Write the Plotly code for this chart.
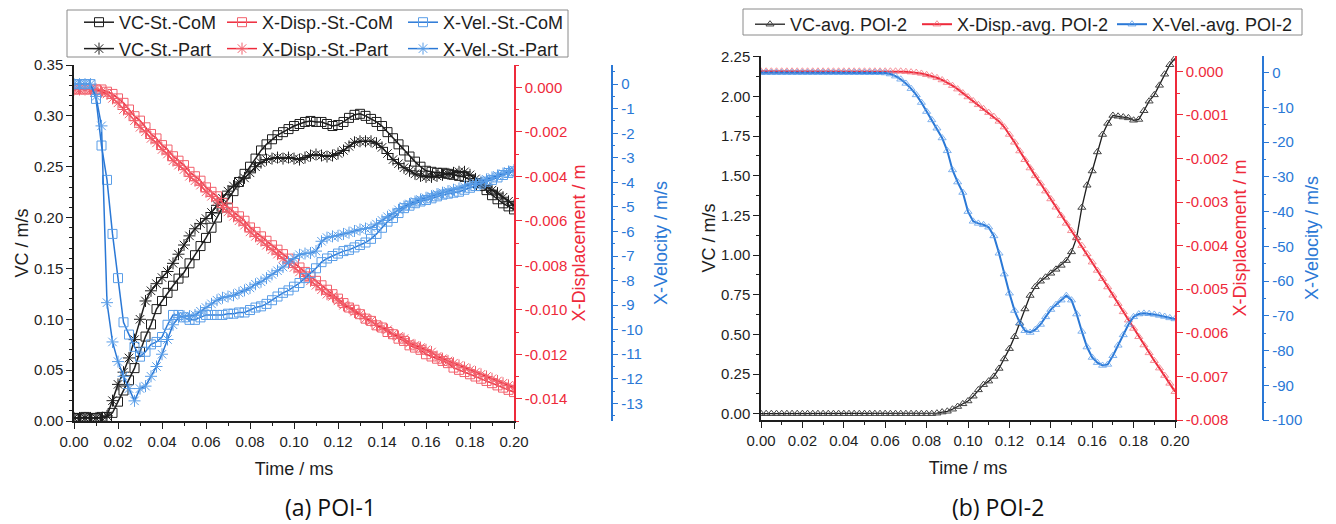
import plotly.graph_objects as go

# ---------------- data ----------------
# time grid (ms), 0.0025 ms sampling
t = [round(i * 0.0025, 4) for i in range(81)]

# (a) POI-1
vc_com = [0.003, 0.003, 0.004, 0.003, 0.003, 0.004, 0.004, 0.008, 0.019, 0.030,
          0.040, 0.052, 0.068, 0.083, 0.095, 0.110, 0.118, 0.126, 0.133, 0.140,
          0.146, 0.155, 0.163, 0.172, 0.180, 0.190, 0.200, 0.210, 0.218, 0.226,
          0.235, 0.243, 0.250, 0.258, 0.266, 0.272, 0.277, 0.281, 0.284, 0.287,
          0.290, 0.292, 0.294, 0.295, 0.294, 0.294, 0.292, 0.290, 0.291, 0.294,
          0.298, 0.301, 0.302, 0.300, 0.297, 0.294, 0.290, 0.284, 0.278, 0.272,
          0.266, 0.260, 0.255, 0.250, 0.246, 0.245, 0.244, 0.244, 0.243, 0.242,
          0.241, 0.240, 0.237, 0.234, 0.231, 0.227, 0.222, 0.218, 0.214, 0.211,
          0.208]
vc_part = [0.003, 0.003, 0.003, 0.003, 0.003, 0.003, 0.005, 0.020, 0.036, 0.048,
           0.062, 0.080, 0.100, 0.118, 0.128, 0.135, 0.141, 0.147, 0.155, 0.164,
           0.173, 0.182, 0.189, 0.194, 0.199, 0.205, 0.212, 0.219, 0.226, 0.231,
           0.235, 0.239, 0.244, 0.250, 0.254, 0.257, 0.258, 0.259, 0.258, 0.259,
           0.258, 0.257, 0.259, 0.261, 0.262, 0.261, 0.260, 0.261, 0.263, 0.266,
           0.270, 0.274, 0.275, 0.275, 0.275, 0.273, 0.269, 0.263, 0.257, 0.253,
           0.249, 0.246, 0.243, 0.241, 0.240, 0.240, 0.241, 0.242, 0.243, 0.244,
           0.245, 0.245, 0.242, 0.238, 0.234, 0.230, 0.227, 0.224, 0.220, 0.216,
           0.212]
disp_com = [-0.0001, -0.0001, -0.0001, -0.0001, -0.0001, -0.0001, -0.0002, -0.0003, -0.0005, -0.0007,
            -0.0010, -0.0013, -0.0015, -0.0018, -0.0021, -0.0023, -0.0026, -0.0028, -0.0031, -0.0033,
            -0.0035, -0.0038, -0.0040, -0.0042, -0.0045, -0.0047, -0.0049, -0.0052, -0.0054, -0.0056,
            -0.0058, -0.0060, -0.0063, -0.0065, -0.0067, -0.0069, -0.0071, -0.0073, -0.0075, -0.0077,
            -0.0079, -0.0081, -0.0083, -0.0085, -0.0087, -0.0089, -0.0091, -0.0093, -0.0095, -0.0097,
            -0.0099, -0.0100, -0.0102, -0.0104, -0.0105, -0.0107, -0.0108, -0.0110, -0.0111, -0.0113,
            -0.0114, -0.0116, -0.0117, -0.0118, -0.0120, -0.0121, -0.0122, -0.0123, -0.0124, -0.0126,
            -0.0127, -0.0128, -0.0129, -0.0130, -0.0131, -0.0132, -0.0133, -0.0134, -0.0135, -0.0136,
            -0.0137]
disp_part = [-0.0001, -0.0001, -0.0001, -0.0001, -0.0001, -0.0002, -0.0003, -0.0005, -0.0007, -0.0010,
             -0.0012, -0.0015, -0.0018, -0.0020, -0.0023, -0.0025, -0.0028, -0.0030, -0.0033, -0.0035,
             -0.0037, -0.0040, -0.0042, -0.0044, -0.0047, -0.0049, -0.0051, -0.0054, -0.0056, -0.0058,
             -0.0060, -0.0062, -0.0065, -0.0067, -0.0069, -0.0071, -0.0073, -0.0075, -0.0077, -0.0079,
             -0.0081, -0.0083, -0.0085, -0.0087, -0.0089, -0.0091, -0.0093, -0.0094, -0.0096, -0.0098,
             -0.0099, -0.0101, -0.0102, -0.0104, -0.0105, -0.0107, -0.0108, -0.0109, -0.0111, -0.0112,
             -0.0113, -0.0115, -0.0116, -0.0117, -0.0118, -0.0119, -0.0121, -0.0122, -0.0123, -0.0124,
             -0.0125, -0.0126, -0.0127, -0.0128, -0.0129, -0.0130, -0.0131, -0.0132, -0.0133, -0.0134,
             -0.0135]
vel_com = [0.0, 0.0, 0.0, 0.0, -0.6, -2.5, -3.9, -6.1, -7.9, -9.7,
           -10.2, -10.7, -11.1, -10.9, -10.6, -10.5, -10.3, -9.8, -9.4, -9.4,
           -9.5, -9.6, -9.6, -9.5, -9.4, -9.4, -9.4, -9.4, -9.35, -9.35,
           -9.3, -9.3, -9.2, -9.1, -9.05, -8.95, -8.8, -8.65, -8.5, -8.4,
           -8.25, -8.1, -7.9, -7.7, -7.5, -7.25, -7.1, -7.0, -6.9, -6.8,
           -6.75, -6.65, -6.55, -6.45, -6.3, -6.1, -5.85, -5.6, -5.45, -5.25,
           -5.05, -4.95, -4.85, -4.78, -4.72, -4.65, -4.57, -4.5, -4.46, -4.42,
           -4.38, -4.3, -4.22, -4.15, -4.05, -3.97, -3.9, -3.8, -3.7, -3.62,
           -3.55]
vel_part = [0.0, 0.0, 0.0, 0.0, -0.5, -1.7, -8.9, -10.5, -11.3, -11.9,
            -12.4, -12.9, -12.4, -12.3, -11.9, -11.5, -11.0, -10.4, -9.8, -9.5,
            -9.45, -9.45, -9.4, -9.25, -9.1, -8.95, -8.8, -8.7, -8.65, -8.6,
            -8.5, -8.4, -8.3, -8.15, -8.05, -7.9, -7.75, -7.6, -7.45, -7.25,
            -7.1, -6.95, -6.9, -6.88, -6.8, -6.4, -6.25, -6.2, -6.18, -6.1,
            -6.05, -5.98, -5.92, -5.88, -5.84, -5.7, -5.55, -5.4, -5.28, -5.12,
            -4.98, -4.88, -4.78, -4.7, -4.63, -4.56, -4.48, -4.42, -4.36, -4.3,
            -4.25, -4.18, -4.1, -4.05, -3.97, -3.88, -3.8, -3.72, -3.64, -3.56,
            -3.5]

# (b) POI-2
vc_avg = [0, 0, 0, 0, 0, 0, 0, 0, 0, 0,
          0, 0, 0, 0, 0, 0, 0, 0, 0, 0,
          0, 0, 0, 0, 0, 0, 0, 0, 0, 0,
          0, 0, 0, 0, 0.003, 0.010, 0.015, 0.028, 0.045, 0.062,
          0.080, 0.110, 0.150, 0.183, 0.205, 0.235, 0.285, 0.345, 0.410, 0.485,
          0.570, 0.660, 0.745, 0.800, 0.835, 0.860, 0.885, 0.910, 0.935, 0.965,
          1.020, 1.110, 1.300, 1.440, 1.530, 1.650, 1.760, 1.830, 1.880, 1.875,
          1.870, 1.865, 1.850, 1.855, 1.910, 1.970, 2.010, 2.070, 2.140, 2.200,
          2.240]
disp_avg = [0, 0, 0, 0, 0, 0, 0, 0, 0, 0,
            0, 0, 0, 0, 0, 0, 0, 0, 0, 0,
            0, 0, 0, 0, 0, 0, 0, 0, -0.00001, -0.00002,
            -0.00003, -0.00005, -0.00008, -0.00011, -0.00015, -0.00020, -0.00026, -0.00033, -0.00041, -0.00050,
            -0.00059, -0.00068, -0.00077, -0.00086, -0.00095, -0.00104, -0.00115, -0.00128, -0.00145, -0.00163,
            -0.00183, -0.00203, -0.00222, -0.00240, -0.00257, -0.00275, -0.00293, -0.00312, -0.00331, -0.00349,
            -0.00366, -0.00383, -0.00400, -0.00419, -0.00438, -0.00457, -0.00476, -0.00495, -0.00514, -0.00533,
            -0.00552, -0.00571, -0.00590, -0.00609, -0.00628, -0.00646, -0.00664, -0.00681, -0.00698, -0.00716,
            -0.00735]
vel_avg = [0, 0, 0, 0, 0, 0, 0, 0, 0, 0,
           0, 0, 0, 0, 0, 0, 0, 0, 0, 0,
           0, 0, 0, 0, -0.1, -0.4, -1.0, -1.9, -3.1, -4.6,
           -6.4, -8.6, -11.2, -13.6, -16.0, -18.8, -22.5, -28.0, -31.5, -34.5,
           -40.0, -42.8, -43.4, -43.8, -44.5, -47.0, -52.0, -58.0, -63.5, -68.5,
           -72.0, -74.3, -74.8, -74.0, -72.5, -70.3, -68.2, -66.8, -65.5, -64.2,
           -65.5, -69.5, -74.5, -79.0, -82.0, -83.5, -84.3, -84.0, -81.5, -78.5,
           -75.5, -72.5, -70.3, -69.5, -69.3, -69.4, -69.6, -69.9, -70.2, -70.6,
           -70.9]

# tick labels
x_ticks = [0.00, 0.02, 0.04, 0.06, 0.08, 0.10, 0.12, 0.14, 0.16, 0.18, 0.20]
x_labels = ["0.00", "0.02", "0.04", "0.06", "0.08", "0.10", "0.12", "0.14", "0.16", "0.18", "0.20"]
vc1_ticks = [0.00, 0.05, 0.10, 0.15, 0.20, 0.25, 0.30, 0.35]
vc1_labels = ["0.00", "0.05", "0.10", "0.15", "0.20", "0.25", "0.30", "0.35"]
d1_ticks = [0.000, -0.002, -0.004, -0.006, -0.008, -0.010, -0.012, -0.014]
d1_labels = ["0.000", "-0.002", "-0.004", "-0.006", "-0.008", "-0.010", "-0.012", "-0.014"]
v1_ticks = [0, -1, -2, -3, -4, -5, -6, -7, -8, -9, -10, -11, -12, -13]
v1_labels = ["0", "-1", "-2", "-3", "-4", "-5", "-6", "-7", "-8", "-9", "-10", "-11", "-12", "-13"]
vc2_ticks = [0.00, 0.25, 0.50, 0.75, 1.00, 1.25, 1.50, 1.75, 2.00, 2.25]
vc2_labels = ["0.00", "0.25", "0.50", "0.75", "1.00", "1.25", "1.50", "1.75", "2.00", "2.25"]
d2_ticks = [0.000, -0.001, -0.002, -0.003, -0.004, -0.005, -0.006, -0.007, -0.008]
d2_labels = ["0.000", "-0.001", "-0.002", "-0.003", "-0.004", "-0.005", "-0.006", "-0.007", "-0.008"]
v2_ticks = [0, -10, -20, -30, -40, -50, -60, -70, -80, -90, -100]
v2_labels = ["0", "-10", "-20", "-30", "-40", "-50", "-60", "-70", "-80", "-90", "-100"]

# ---------------- style ----------------
W, H = 1336, 524
FONT = "Liberation Sans, Arial, sans-serif"
BLACK = "#1e1e1e"
RED = "#ee2a3b"
RED_M = "#f2606c"
BLUE = "#2a78d6"
BLUE_M = "#5a9ee8"
TICK_FS = 15
TITLE_FS = 18
LEG_FS = 18


def px(x):
    return x / W


def py(y):
    return 1 - y / H


fig = go.Figure()


def add(x, y, name, color, mcolor, symbol, size, xa, ya, leg, lw=1.5):
    fig.add_trace(go.Scatter(
        x=x, y=y, name=name, mode="lines+markers",
        line=dict(color=color, width=lw),
        marker=dict(symbol=symbol, size=size, color=mcolor,
                    line=dict(color=mcolor, width=1)),
        xaxis=xa, yaxis=ya, legend=leg))


# panel (a)
add(t, vc_com, "VC-St.-CoM", BLACK, BLACK, "square-open", 9, "x", "y", "legend")
add(t, vc_part, "VC-St.-Part", BLACK, BLACK, "asterisk-open", 10, "x", "y", "legend")
add(t, disp_com, "X-Disp.-St.-CoM", RED, RED_M, "square-open", 9, "x", "y2", "legend2")
add(t, disp_part, "X-Disp.-St.-Part", RED, RED_M, "asterisk-open", 10, "x", "y2", "legend2")
add(t, vel_com, "X-Vel.-St.-CoM", BLUE, BLUE_M, "square-open", 9, "x", "y3", "legend3")
add(t, vel_part, "X-Vel.-St.-Part", BLUE, BLUE_M, "asterisk-open", 10, "x", "y3", "legend3")

# panel (b)
add(t, vc_avg, "VC-avg. POI-2", BLACK, "#444444", "triangle-up-open", 7, "x2", "y4", "legend4", lw=1.3)
add(t, disp_avg, "X-Disp.-avg. POI-2", RED, "rgba(242,110,120,0.75)", "triangle-up-open", 7, "x2", "y5", "legend5", lw=2)
add(t, vel_avg, "X-Vel.-avg. POI-2", BLUE, "rgba(90,155,232,0.75)", "triangle-up-open", 7, "x2", "y6", "legend6", lw=2)


def xax(domain, anchor):
    return dict(domain=domain, anchor=anchor, range=[0, 0.2], automargin=False,
                tickmode="array", tickvals=x_ticks, ticktext=x_labels,
                ticks="outside", ticklen=6, tickwidth=1.2, tickcolor=BLACK,
                showline=True, linecolor=BLACK, linewidth=1.5,
                showgrid=False, zeroline=False,
                tickfont=dict(family=FONT, size=TICK_FS, color=BLACK),
                minor=dict(tickmode="linear", tick0=0, dtick=0.01, ticks="outside",
                           ticklen=3, tickwidth=1, tickcolor=BLACK, showgrid=False),
                title=dict(text="Time / ms", font=dict(family=FONT, size=TITLE_FS, color=BLACK),
                           standoff=14))


def yax(rng, tv, tt, color, title, minor_dt, side="left", **kw):
    d = dict(range=rng, tickmode="array", tickvals=tv, ticktext=tt, side=side,
             automargin=False,
             ticks="outside", ticklen=6, tickwidth=1.2, tickcolor=color,
             showline=True, linecolor=color, linewidth=1.5,
             showgrid=False, zeroline=False,
             tickfont=dict(family=FONT, size=TICK_FS, color=color),
             minor=dict(tickmode="linear", tick0=0, dtick=minor_dt, ticks="outside",
                        ticklen=3, tickwidth=1, tickcolor=color, showgrid=False),
             title=dict(text=title, font=dict(family=FONT, size=TITLE_FS, color=color)))
    d.update(kw)
    return d


def leg(x_text, y_top, orient="v"):
    return dict(x=px(x_text - 40), y=py(y_top), orientation=orient,
                font=dict(family=FONT, size=LEG_FS, color=BLACK),
                bgcolor="rgba(0,0,0,0)", borderwidth=0,
                xanchor="left", yanchor="top", itemclick=False,
                tracegroupgap=0)


fig.update_layout(
    template="none",
    width=W, height=H,
    margin=dict(l=0, r=0, t=0, b=0, autoexpand=False),
    paper_bgcolor="white", plot_bgcolor="white",
    font=dict(family=FONT, color=BLACK),
    hovermode=False,
    xaxis=xax([px(74), px(514)], "y"),
    yaxis=yax([0, 0.35], vc1_ticks, vc1_labels, BLACK, "VC / m/s", 0.01,
              domain=[py(421), py(65)], anchor="x"),
    yaxis2=yax([-0.015, 0.001], d1_ticks, d1_labels, RED, "X-Displacement / m", 0.001,
               side="right", overlaying="y", anchor="x"),
    yaxis3=yax([-13.72, 0.78], v1_ticks, v1_labels, BLUE, "X-Velocity / m/s", 0.5,
               side="right", overlaying="y", anchor="free", position=px(611.5)),
    xaxis2=xax([px(761), px(1175)], "y4"),
    yaxis4=yax([-0.04, 2.255], vc2_ticks, vc2_labels, BLACK, "VC / m/s", 0.125,
               domain=[py(420), py(56)], anchor="x2"),
    yaxis5=yax([-0.008, 0.00035], d2_ticks, d2_labels, RED, "X-Displacement / m", 0.0005,
               side="right", overlaying="y4", anchor="x2"),
    yaxis6=yax([-100, 4.8], v2_ticks, v2_labels, BLUE, "X-Velocity / m/s", 5,
               side="right", overlaying="y4", anchor="free", position=px(1262.5)),
    legend=leg(119, 4),
    legend2=leg(262, 4),
    legend3=leg(443, 4),
    legend4=leg(790, 6),
    legend5=leg(957, 6),
    legend6=leg(1152, 6),
    showlegend=True,
    shapes=[
        dict(type="rect", xref="paper", yref="paper", x0=px(67), x1=px(568),
             y0=py(57), y1=py(10), line=dict(color="#8a8a8a", width=1)),
        dict(type="rect", xref="paper", yref="paper", x0=px(743), x1=px(1302),
             y0=py(35), y1=py(9), line=dict(color="#8a8a8a", width=1)),
    ],
    annotations=[
        dict(text="(a) POI-1", x=px(330), y=py(507), xref="paper", yref="paper",
             showarrow=False, xanchor="center", yanchor="middle",
             font=dict(family="Open Sans, sans-serif", size=23, color="#111111")),
        dict(text="(b) POI-2", x=px(998), y=py(507), xref="paper", yref="paper",
             showarrow=False, xanchor="center", yanchor="middle",
             font=dict(family="Open Sans, sans-serif", size=23, color="#111111")),
    ],
)

fig.write_html("out.html", config={"displayModeBar": False},
               post_script="document.body.style.margin='0px';")
